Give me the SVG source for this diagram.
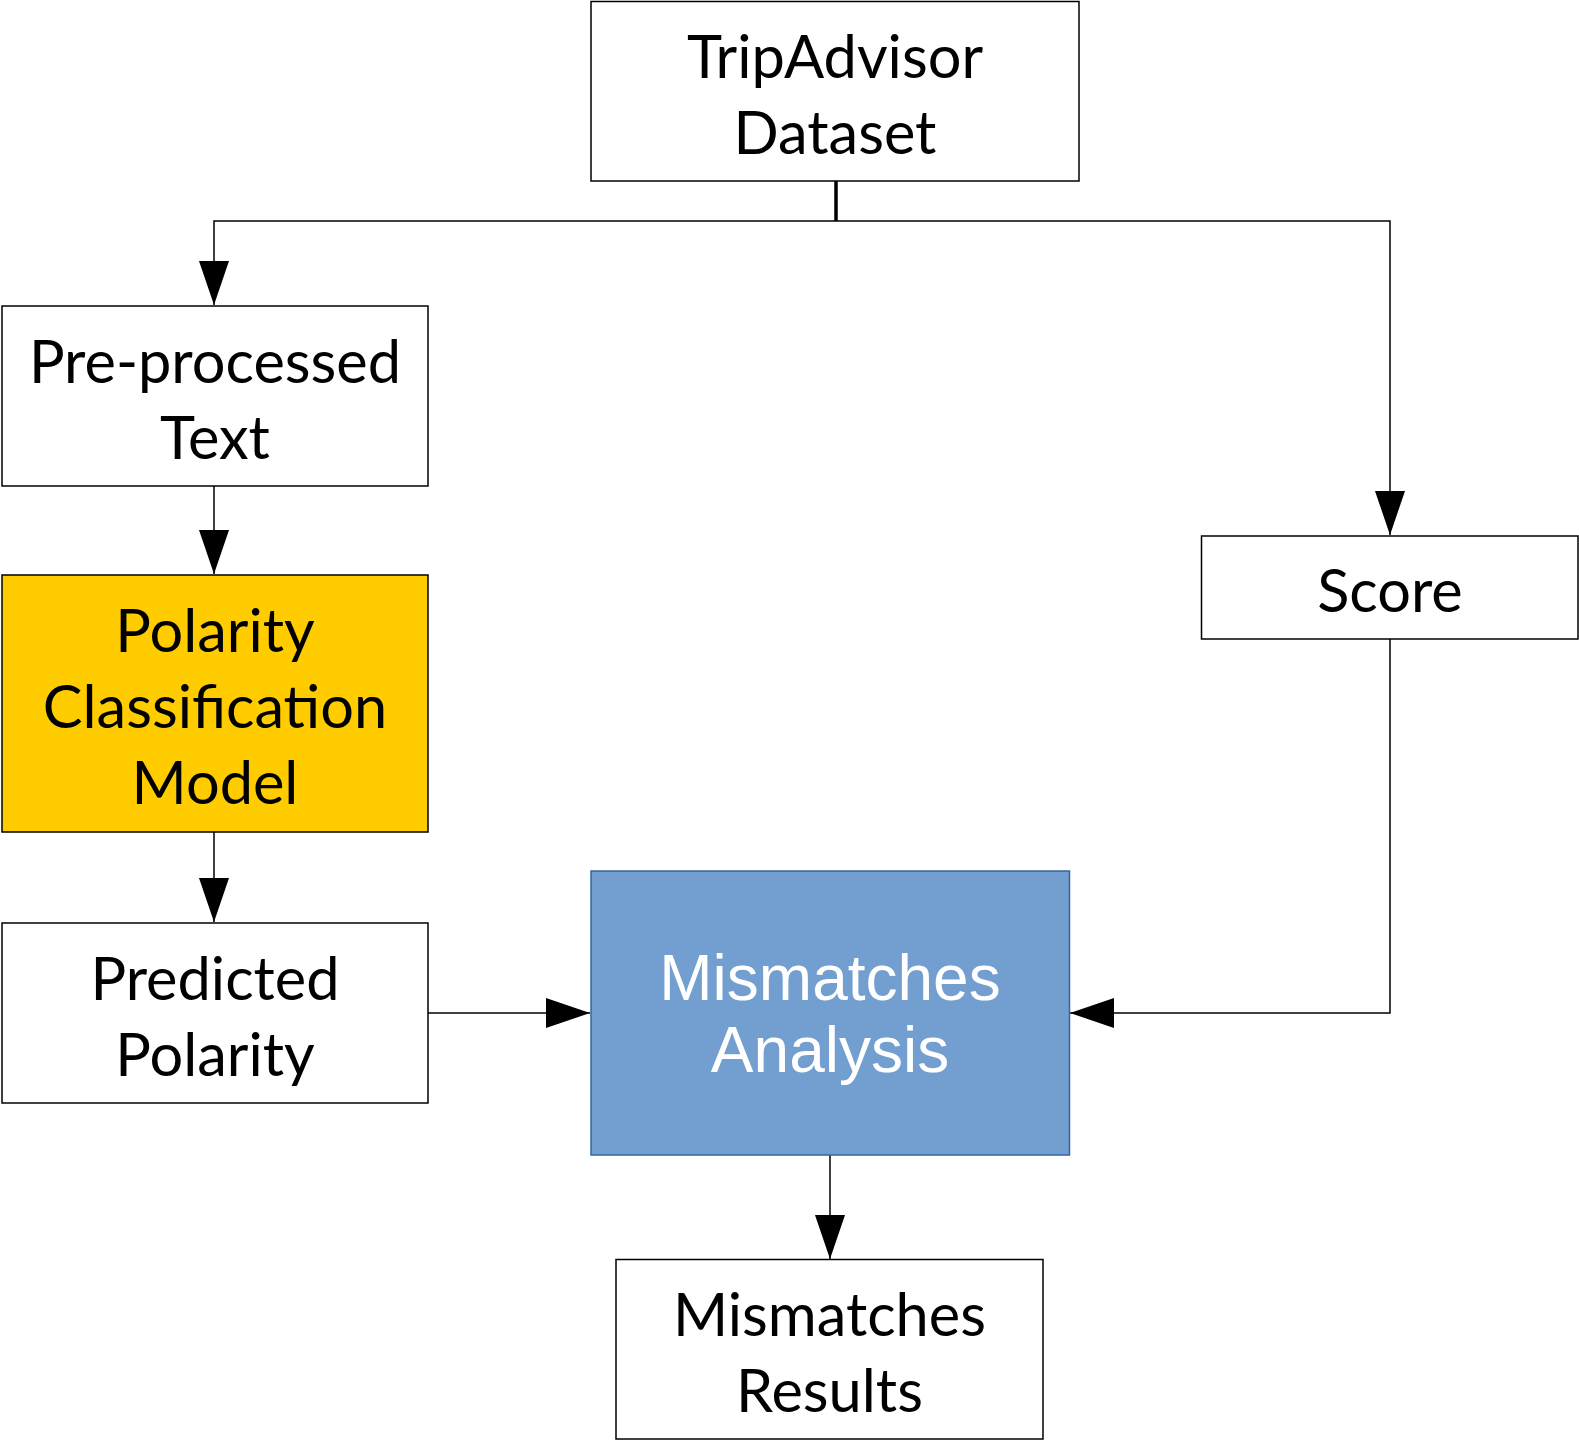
<svg xmlns="http://www.w3.org/2000/svg" width="1579" height="1440" viewBox="0 0 1579 1440">
<style>
.box{fill:#ffffff;stroke:#000000;stroke-width:1.5}
.lbl{font-family:Lato,"Liberation Sans",sans-serif;font-size:59.5px;fill:#000000;text-anchor:middle}
.wl{font-family:"Liberation Sans",Arial,sans-serif;font-size:64px;fill:#ffffff;text-anchor:middle}
.conn{fill:none;stroke:#000000;stroke-width:1.5}
</style>
<defs>
<marker id="arr" markerUnits="userSpaceOnUse" markerWidth="44" markerHeight="30" refX="44" refY="15" orient="auto" viewBox="0 0 44 30">
<path d="M0,0 L44,15 L0,30 Z" fill="#000000"/>
</marker>
</defs>
<rect width="1579" height="1440" fill="#ffffff"/>
<g id="connectors">
<line x1="836" y1="181" x2="836" y2="221" stroke="#000000" stroke-width="3.5"/>
<polyline class="conn" points="836,221 214,221 214,305" marker-end="url(#arr)"/>
<polyline class="conn" points="836,221 1390,221 1390,535" marker-end="url(#arr)"/>
<line class="conn" x1="214" y1="486" x2="214" y2="574" marker-end="url(#arr)"/>
<line class="conn" x1="214" y1="832" x2="214" y2="922" marker-end="url(#arr)"/>
<line class="conn" x1="428" y1="1013" x2="590" y2="1013" marker-end="url(#arr)"/>
<polyline class="conn" points="1390,639 1390,1013 1070,1013" marker-end="url(#arr)"/>
<line class="conn" x1="830" y1="1155" x2="830" y2="1259" marker-end="url(#arr)"/>
</g>
<g id="tripadvisor">
<rect class="box" x="591" y="1.5" width="488" height="179.5"/>
<text class="lbl" x="835" y="78">TripAdvisor</text>
<text class="lbl" x="835" y="154">Dataset</text>
</g>
<g id="preprocessed">
<rect class="box" x="2" y="306" width="426" height="180"/>
<text class="lbl" x="215" y="382.5">Pre-processed</text>
<text class="lbl" x="215" y="458.5">Text</text>
</g>
<g id="model">
<rect x="2" y="575" width="426" height="257" fill="#ffcc00" stroke="#000000" stroke-width="1.5"/>
<text class="lbl" x="215" y="652">Polarity</text>
<text class="lbl" x="215" y="728">Classification</text>
<text class="lbl" x="215" y="804">Model</text>
</g>
<g id="predicted">
<rect class="box" x="2" y="923" width="426" height="180"/>
<text class="lbl" x="215" y="1000">Predicted</text>
<text class="lbl" x="215" y="1076">Polarity</text>
</g>
<g id="score">
<rect class="box" x="1201.5" y="536" width="376.5" height="103"/>
<text class="lbl" x="1390" y="611.5">Score</text>
</g>
<g id="analysis">
<rect x="591" y="871" width="478.5" height="284" fill="#729fcf" stroke="#3465a4" stroke-width="1.5"/>
<text class="wl" x="830" y="999.5">Mismatches</text>
<text class="wl" x="830" y="1072">Analysis</text>
</g>
<g id="results">
<rect class="box" x="616" y="1259.5" width="427" height="179.5"/>
<text class="lbl" x="829.5" y="1336">Mismatches</text>
<text class="lbl" x="829.5" y="1412">Results</text>
</g>
</svg>
